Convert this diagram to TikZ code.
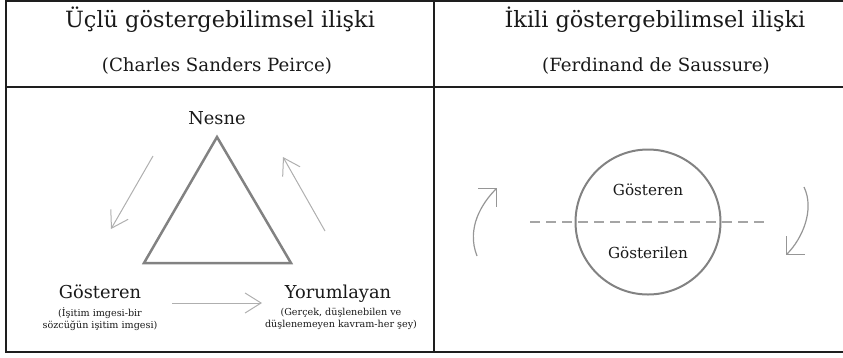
\documentclass[tikz,border=0pt]{standalone}
\usepackage{fontspec}
\setmainfont{DejaVu Serif}
\usetikzlibrary{arrows.meta}
\definecolor{border}{RGB}{30,30,30}
\definecolor{txt}{RGB}{25,25,25}
\definecolor{shapegray}{RGB}{130,130,130}
\definecolor{arrowgray}{RGB}{175,175,175}
\definecolor{curvegray}{RGB}{150,150,150}
\definecolor{dashgray}{RGB}{165,165,165}
\tikzset{
  frame/.style={draw=border, line width=2pt},
  lbl/.style={inner sep=0pt, anchor=base, text=txt},
  title/.style={lbl, font=\fontsize{22.4}{26}\selectfont},
  subtitle/.style={lbl, font=\fontsize{18.2}{22}\selectfont},
  big/.style={lbl, font=\fontsize{17.8}{21}\selectfont},
  mid/.style={lbl, font=\fontsize{15.2}{18}\selectfont},
  small/.style={lbl, font=\fontsize{9.6}{12}\selectfont, align=center},
  flow/.style={draw=arrowgray, line width=1pt, -{Straight Barb[length=16pt,width=20pt]}},
  turn/.style={draw=curvegray, line width=1.2pt, -{Straight Barb[length=13pt,width=26pt]}}
}
\begin{document}
\begin{tikzpicture}[x=1pt,y=-1pt]
\useasboundingbox (0,0) rectangle (843,357);
% table frame
\draw[frame] (6,1.2) -- (843,1.2);
\draw[frame] (6,0.2) -- (6,352.5);
\draw[frame] (5,352) -- (843,352);
\draw[frame] (434,0.2) -- (434,352.5);
\draw[frame] (5,87) -- (843,87);
% headers
\node[title] (t1) at (220,27) {Üçlü göstergebilimsel ilişki};
\node[subtitle] (s1) at (217,71) {(Charles Sanders Peirce)};
\node[title] (t2) at (655,27) {İkili göstergebilimsel ilişki};
\node[subtitle] (s2) at (656,71) {(Ferdinand de Saussure)};
% left panel
\node[big] (nesne) at (217,124) {Nesne};
\coordinate (apex) at (217,137);
\coordinate (bl) at (144,263);
\coordinate (br) at (291,263);
\draw[draw=shapegray, line width=2.5pt, line join=miter] (apex) -- (bl) -- (br) -- cycle;
\node[big] (gost) at (100,298) {Gösteren};
\node[small, anchor=north] (gostsub) at (100,307.5) {(İşitim imgesi-bir\\sözcüğün işitim imgesi)};
\node[big] (yor) at (338,298) {Yorumlayan};
\node[small, anchor=north] (yorsub) at (341,307.5) {(Gerçek, düşlenebilen ve\\düşlenemeyen kavram-her şey)};
\coordinate (a1s) at (153,156);
\coordinate (a1e) at (111,229);
\coordinate (a2s) at (325,231);
\coordinate (a2e) at (283,157);
\coordinate (a3s) at (172,303);
\coordinate (a3e) at (262,303);
\draw[flow] (a1s) -- (a1e);
\draw[flow] (a2s) -- (a2e);
\draw[flow] (a3s) -- (a3e);
% right panel
\node[draw=shapegray, line width=2pt, circle, minimum size=145pt, inner sep=0pt] (circ) at (648,222) {};
\coordinate (dl) at (530,222);
\coordinate (dr) at (766,222);
\draw[draw=dashgray, line width=1.5pt, dash pattern=on 10pt off 6pt] (dl) -- (dr);
\node[mid] (gos2) at (648,195) {Gösteren};
\node[mid] (gos3) at (648,258) {Gösterilen};
\coordinate (c1s) at (477,256);
\coordinate (c1e) at (497,188);
\coordinate (c2s) at (804,187);
\coordinate (c2e) at (786,255);
\draw[turn] (c1s) .. controls (466,228) and (482,203) .. (c1e);
\draw[turn] (c2s) .. controls (815,210) and (802,239) .. (c2e);
\end{tikzpicture}
\end{document}
